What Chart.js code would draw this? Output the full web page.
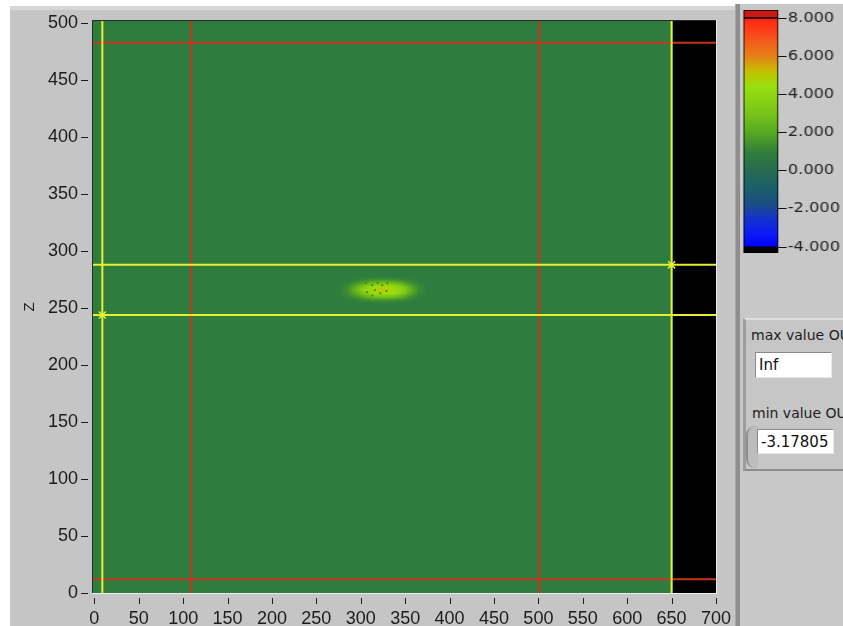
<!DOCTYPE html>
<html>
<head>
<meta charset="utf-8">
<script src="https://cdn.jsdelivr.net/npm/chart.js@4.4.1/dist/chart.umd.min.js"></script>
<style>
  html, body { margin: 0; padding: 0; background: #fff; }
  #stage { position: relative; width: 843px; height: 626px; overflow: hidden; background: #fff; font-family: "DejaVu Sans", sans-serif; }
  #panelL { position: absolute; left: 10px; top: 6px; width: 725px; height: 620px; background: #c5c5c5; }
  #panelL::before { content: ""; position: absolute; left: 0; top: 0; right: 0; height: 4px; background: #d6d6d6; }
  #sep { position: absolute; left: 735px; top: 4px; width: 5px; height: 622px; background: #8e8e8e; border-left: 1px solid #a8a8a8; box-sizing: border-box; }
  #panelR { position: absolute; left: 740px; top: 4px; width: 103px; height: 622px; background: #c8c8c8; }
  #mainWrap { position: absolute; left: 0; top: 0; }
  #barWrap { position: absolute; left: 735px; top: 0; transform: scaleX(1.2); transform-origin: 0 0; }
  #grp { position: absolute; left: 743px; top: 318px; width: 110px; height: 153px; box-sizing: border-box;
         border-top: 2px solid #dedede; border-left: 3px solid #9c9c9c; border-bottom: 2px solid #8c8c8c; background: #c6c6c6; }
  .lbl { position: absolute; font-size: 14px; color: #1e1e1e; white-space: nowrap; }
  .box { position: absolute; box-sizing: border-box; background: #fff; font-size: 15px; color: #111;
         border-top: 1px solid #8a8a8a; border-left: 1px solid #8a8a8a; border-bottom: 1px solid #e8e8e8; border-right: 1px solid #e8e8e8;
         padding: 3px 0 0 3px; white-space: nowrap; overflow: hidden; }
  #knob { position: absolute; left: 746px; top: 426px; width: 12px; height: 42px; box-sizing: border-box;
          border-left: 2px solid #8e8e8e; border-radius: 9px 0 0 9px; background: #bdbdbd; }
</style>
</head>
<body>
<div id="stage">
  <div id="panelL"></div>
  <div id="sep"></div>
  <div id="panelR"></div>
  <div id="grp"></div>
  <div class="lbl" style="left:751px;top:327px;">max value OUT</div>
  <div class="box" style="left:755px;top:352px;width:77px;height:26px;">Inf</div>
  <div class="lbl" style="left:752px;top:405px;">min value OUT</div>
  <div id="knob"></div>
  <div class="box" style="left:757px;top:429px;width:77px;height:25px;">-3.17805</div>
  <div id="mainWrap"><canvas id="main" width="760" height="626"></canvas></div>
  <div id="barWrap"><canvas id="ramp" width="90" height="270"></canvas></div>
</div>

<script>
// ---- axes ----
const xRange = [-1.5, 700];
const zRange = [0, 502];
const xTicks = [0, 50, 100, 150, 200, 250, 300, 350, 400, 450, 500, 550, 600, 650, 700];
const zTicks = [0, 50, 100, 150, 200, 250, 300, 350, 400, 450, 500];

// ---- intensity field ----
const fieldColumns = [-1.5, 651];      // x extent that carries data
const backgroundLevel = 0.9;           // level of the flat surround

// bright spot, sampled on a small grid (z ascending)
const spotX = [285, 295, 305, 315, 325, 335, 345, 355, 365];
const spotZ = [257, 260, 263, 266, 269, 272, 275];
const spotLevels = [
  [0.9, 1.0, 1.2, 1.4, 1.5, 1.4, 1.2, 1.0, 0.9],
  [1.0, 1.5, 2.3, 2.9, 3.1, 2.9, 2.3, 1.5, 1.0],
  [1.3, 2.3, 3.6, 4.3, 4.6, 4.4, 3.6, 2.2, 1.2],
  [1.4, 2.7, 4.1, 4.7, 4.9, 4.7, 4.0, 2.6, 1.3],
  [1.3, 2.3, 3.6, 4.3, 4.6, 4.3, 3.5, 2.2, 1.2],
  [1.0, 1.5, 2.2, 2.8, 3.0, 2.8, 2.2, 1.4, 1.0],
  [0.9, 1.0, 1.2, 1.4, 1.5, 1.4, 1.2, 1.0, 0.9]
];
// dark specks inside the spot
const speckX = [306, 313, 319, 324, 330, 307, 316, 322, 329, 313];
const speckZ = [272, 270, 272, 270, 272, 264, 266, 263, 265, 261];

// ---- cursors ----
const redCursorX = [109, 501];
const redCursorZ = [483, 12];
const yellowCursorX = [9, 650];
const yellowCursorZ = [244, 288];

// ---- colour ramp ----
const rampValues = [-4, -3.2, -2.4, -1.8, -1, 0, 0.9, 2, 3, 4.4, 5.2, 6, 7, 8];
const rampColors = ['#0000ff', '#0d1ef2', '#1636c4', '#1a4c88', '#1a5e6c', '#276c52', '#2e7d3e',
                    '#58a822', '#78c418', '#98e010', '#c4c000', '#e58018', '#f8501c', '#ff2412'];
const rampTicks = [-4, -2, 0, 2, 4, 6, 8];
const rampOver = 8.42, rampUnder = -4.31;

function hexRgb(h) { return [1, 3, 5].map(i => parseInt(h.substr(i, 2), 16)); }
function levelColor(v) {
  if (v <= rampValues[0]) return rampColors[0];
  for (let i = 0; i < rampValues.length - 1; i++) {
    if (v <= rampValues[i + 1]) {
      const t = (v - rampValues[i]) / (rampValues[i + 1] - rampValues[i]);
      const a = hexRgb(rampColors[i]), b = hexRgb(rampColors[i + 1]);
      return 'rgb(' + a.map((c, k) => Math.round(c + (b[k] - c) * t)).join(',') + ')';
    }
  }
  return rampColors[rampColors.length - 1];
}

Chart.defaults.font.family = '"Liberation Sans", Arial, sans-serif';
Chart.defaults.color = '#1c1c1c';

// paints the intensity image under the cursors
const fieldPlugin = {
  id: 'field',
  beforeDatasetsDraw(chart) {
    const { ctx, chartArea: a, scales: { x, y } } = chart;
    ctx.save();
    ctx.beginPath();
    ctx.rect(a.left, a.top, a.width, a.height);
    ctx.clip();
    ctx.fillStyle = '#000';
    ctx.fillRect(a.left, a.top, a.width, a.height);

    const fx0 = x.getPixelForValue(fieldColumns[0]);
    const fx1 = x.getPixelForValue(fieldColumns[1]);
    const fy0 = y.getPixelForValue(zRange[1]);
    const fy1 = y.getPixelForValue(zRange[0]);
    ctx.fillStyle = levelColor(backgroundLevel);
    ctx.fillRect(fx0, fy0, fx1 - fx0, fy1 - fy0);

    // spot grid, padded with the surround level and smoothed on upscaling
    const cols = spotX.length + 2, rows = spotZ.length + 2;
    const img = document.createElement('canvas');
    img.width = cols; img.height = rows;
    const ic = img.getContext('2d');
    for (let r = 0; r < rows; r++) {
      for (let c = 0; c < cols; c++) {
        const edge = r === 0 || c === 0 || r === rows - 1 || c === cols - 1;
        const lv = edge ? backgroundLevel : spotLevels[spotZ.length - r][c - 1];
        ic.fillStyle = levelColor(lv);
        ic.fillRect(c, r, 1, 1);
      }
    }
    const dx = spotX[1] - spotX[0], dz = spotZ[1] - spotZ[0];
    const sl = x.getPixelForValue(spotX[0] - 1.5 * dx);
    const sr = x.getPixelForValue(spotX[spotX.length - 1] + 1.5 * dx);
    const st = y.getPixelForValue(spotZ[spotZ.length - 1] + 1.5 * dz);
    const sb = y.getPixelForValue(spotZ[0] - 1.5 * dz);
    ctx.imageSmoothingEnabled = true;
    ctx.drawImage(img, sl, st, sr - sl, sb - st);
    ctx.restore();
  },
  afterDraw(chart) {
    const { ctx, chartArea: a, scales: { x, y } } = chart;
    ctx.save();
    // sunken frame
    ctx.fillStyle = '#2a2a2a';
    ctx.fillRect(a.left - 1, a.top - 1, a.width + 1, 1);
    ctx.fillRect(a.left - 1, a.top - 1, 1, a.height + 1);
    ctx.fillStyle = '#ececec';
    ctx.fillRect(a.left - 1, a.bottom, a.width + 2, 1);
    ctx.fillRect(a.right, a.top - 1, 1, a.height + 2);
    // outside tick marks
    ctx.strokeStyle = '#1c1c1c';
    ctx.lineWidth = 1;
    ctx.beginPath();
    y.ticks.forEach(t => {
      const py = Math.round(y.getPixelForValue(t.value)) + 0.5;
      ctx.moveTo(a.left - 12, py); ctx.lineTo(a.left - 5, py);
    });
    x.ticks.forEach(t => {
      const px = Math.round(x.getPixelForValue(t.value)) + 0.5;
      ctx.moveTo(px, a.bottom + 5); ctx.lineTo(px, a.bottom + 11);
    });
    ctx.stroke();
    ctx.restore();
  }
};

const hLine = z => [{ x: xRange[0], y: z }, { x: xRange[1], y: z }];
const vLine = v => [{ x: v, y: zRange[0] }, { x: v, y: zRange[1] }];
const lineSet = (data, color, order) => ({
  data, showLine: true, borderColor: color, borderWidth: 2, pointRadius: 0, fill: false, order
});

const red = '#c9341f', yellow = '#e8f032';
const datasets = [
  ...redCursorZ.map(z => lineSet(hLine(z), red, 3)),
  ...redCursorX.map(v => lineSet(vLine(v), red, 3)),
  ...yellowCursorZ.map(z => lineSet(hLine(z), yellow, 2)),
  ...yellowCursorX.map(v => lineSet(vLine(v), yellow, 2)),
  {
    data: yellowCursorX.map((v, i) => ({ x: v, y: yellowCursorZ[i] })),
    pointStyle: 'crossRot', pointRadius: 5, borderColor: yellow, borderWidth: 1.5, showLine: false, order: 0
  },
  {
    data: speckX.map((v, i) => ({ x: v, y: speckZ[i] })),
    pointRadius: 1, backgroundColor: '#4a7422', borderWidth: 0, showLine: false, order: 1
  }
];

new Chart(document.getElementById('main'), {
  type: 'scatter',
  data: { datasets },
  plugins: [fieldPlugin],
  options: {
    responsive: false,
    animation: false,
    events: [],
    layout: { padding: { top: 21, right: 44, bottom: 0, left: 0 } },
    plugins: { legend: { display: false }, tooltip: { enabled: false } },
    scales: {
      x: {
        type: 'linear', min: xRange[0], max: xRange[1],
        grid: { display: false, drawTicks: false }, border: { display: false },
        afterBuildTicks: s => { s.ticks = xTicks.map(v => ({ value: v })); },
        afterFit: s => { s.height = 33; },
        ticks: { autoSkip: false, maxRotation: 0, padding: 15, font: { size: 18 }, color: '#1c1c1c' }
      },
      y: {
        type: 'linear', min: zRange[0], max: zRange[1],
        grid: { display: false, drawTicks: false }, border: { display: false },
        afterBuildTicks: s => { s.ticks = zTicks.map(v => ({ value: v })); },
        afterFit: s => { s.width = 93; s.paddingTop = 0; s.paddingBottom = 0; },
        ticks: { autoSkip: false, padding: 15, font: { size: 18 }, color: '#1c1c1c' },
        title: { display: true, text: 'Z', font: { size: 15 }, color: '#1c1c1c', padding: { top: 21, bottom: 0 } }
      }
    }
  }
});

// colour ramp legend
function rampGradient(ctx) {
  const chart = ctx.chart;
  if (!chart.chartArea) return '#2e7d3e';
  const y = chart.scales.y;
  const y0 = y.getPixelForValue(rampValues[0]);
  const y1 = y.getPixelForValue(rampValues[rampValues.length - 1]);
  const g = chart.ctx.createLinearGradient(0, y0, 0, y1);
  const span = rampValues[rampValues.length - 1] - rampValues[0];
  rampValues.forEach((v, i) => g.addColorStop((v - rampValues[0]) / span, rampColors[i]));
  return g;
}

const barCommon = { grouped: false, barPercentage: 1, categoryPercentage: 1, borderColor: '#000', borderWidth: 1, borderSkipped: false };
new Chart(document.getElementById('ramp'), {
  type: 'bar',
  data: {
    labels: [''],
    datasets: [
      { ...barCommon, data: [[rampValues[rampValues.length - 1], rampOver]], backgroundColor: '#c81a12' },
      { ...barCommon, data: [[rampValues[0], rampValues[rampValues.length - 1]]], backgroundColor: rampGradient },
      { ...barCommon, data: [[rampUnder, rampValues[0]]], backgroundColor: '#050505' }
    ]
  },
  options: {
    responsive: false,
    animation: false,
    events: [],
    layout: { padding: { top: 10, right: 0, bottom: 17, left: 7 } },
    plugins: { legend: { display: false }, tooltip: { enabled: false } },
    scales: {
      x: { display: false },
      y: {
        position: 'right', min: rampUnder, max: rampOver,
        grid: { drawOnChartArea: false, drawTicks: true, tickLength: 7, tickColor: '#111', tickWidth: 1 },
        border: { display: false },
        afterBuildTicks: s => { s.ticks = rampTicks.map(v => ({ value: v })); },
        afterFit: s => { s.width = 54; s.paddingTop = 0; s.paddingBottom = 0; },
        ticks: { padding: 1, font: { family: '"DejaVu Sans", sans-serif', size: 13.5 }, color: '#222',
                 callback: v => v.toFixed(3) }
      }
    }
  }
});
</script>
</body>
</html>
